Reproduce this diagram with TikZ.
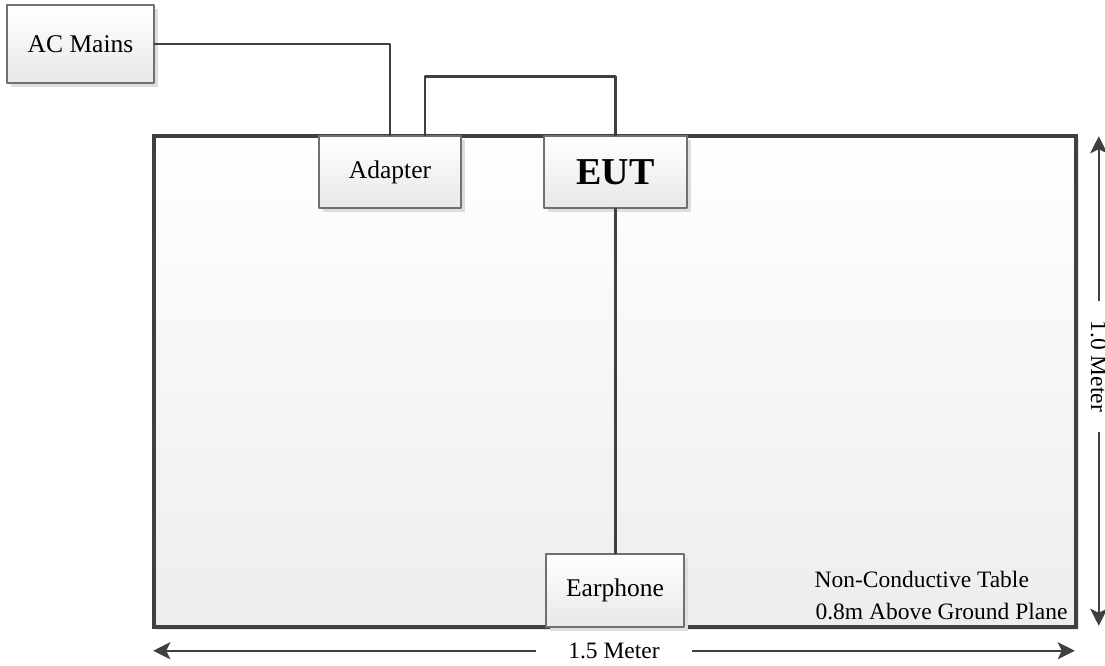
\documentclass[tikz,border=0pt]{standalone}
\usepackage{fontspec}
\setmainfont{Liberation Serif}
\usetikzlibrary{arrows.meta,shadows}
\definecolor{wiregray}{HTML}{404040}
\definecolor{edgegray}{HTML}{707070}
\begin{document}
\begin{tikzpicture}[x=1pt,y=-1pt,>={Stealth[length=17pt,width=17pt,inset=4pt]}, line join=round, line cap=round,
	unitbox/.style={draw=edgegray, line width=1.3pt, top color=white, bottom color=black!9, inner sep=0pt,
		drop shadow={shadow xshift=4pt, shadow yshift=-4pt, fill=black!13, opacity=1},
		font=\fontsize{25.5}{30}\selectfont},
	tabletop/.style={draw=wiregray, line width=3.5pt, line join=miter, top color=white, bottom color=black!7,
		drop shadow={shadow xshift=3pt, shadow yshift=-3pt, fill=black!10, opacity=1}},
	wire/.style={draw=wiregray, line width=2.5pt},
	dim/.style={draw=wiregray, line width=2.5pt, <->},
	dimlabel/.style={fill=white, inner ysep=1pt, font=\fontsize{23.5}{28}\selectfont}]
	\useasboundingbox[fill=white] (0,0) rectangle (1105,666);
	% table
	\node[tabletop, minimum width=922pt, minimum height=491pt] (table) at (615,381.5) {};
	\node[anchor=base west, font=\fontsize{23.5}{28}\selectfont] (note1) at (811,587) {Non-Conductive Table};
	\node[anchor=base west, font=\fontsize{23.5}{28}\selectfont] (note2) at (812,619) {0.8m Above Ground Plane};
	% units
	\node[unitbox, minimum width=147pt, minimum height=78pt] (ac) at (80.5,44) {AC Mains};
	\node[unitbox, minimum width=142pt, minimum height=72pt] (adapter) at (390,172) {Adapter};
	\node[unitbox, minimum width=143pt, minimum height=72pt, font=\fontsize{38}{44}\selectfont\bfseries] (eut) at (615.5,172) {EUT};
	\node[unitbox, minimum width=138pt, minimum height=73pt] (earphone) at (615,590.5) {Earphone};
	% cables
	\draw[wire] (ac.east) -| (adapter.north);
	\draw[wire] ([xshift=35pt]adapter.north) |- ([yshift=59pt]eut.north) -- (eut.north);
	\draw[wire] (eut.south) -- (eut.south |- earphone.north);
	% dimensions
	\draw[dim] ([shift={(1pt,-22pt)}]table.south west) -- node[dimlabel, inner xsep=32pt]{1.5 Meter} ([shift={(-3pt,-22pt)}]table.south east);
	\draw[dim] ([shift={(21pt,-2pt)}]table.north east) -- node[dimlabel, rotate=-90, inner xsep=20pt, pos=.47]{1.0 Meter} ([shift={(21pt,3pt)}]table.south east);
\end{tikzpicture}
\end{document}
